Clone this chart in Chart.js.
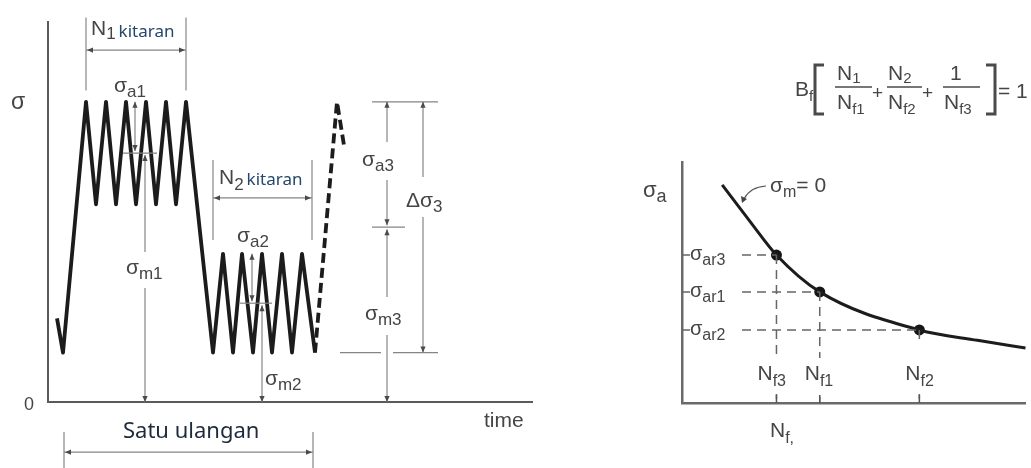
<!DOCTYPE html>
<html>
<head>
<meta charset="utf-8">
<script src="https://cdn.jsdelivr.net/npm/chart.js@4.4.1/dist/chart.umd.min.js"></script>
<style>
  html, body { margin: 0; padding: 0; background: #fff; }
  #wrap { position: relative; width: 1031px; height: 468px; overflow: hidden; }
  #loadChart { position: absolute; left: 0; top: 0; }
  #snChart { position: absolute; left: 600px; top: 0; }
</style>
</head>
<body>
<div id="wrap">
  <canvas id="loadChart" width="560" height="468"></canvas>
  <canvas id="snChart" width="431" height="468"></canvas>
</div>
<script>
// stress history, one repeat of the block loading (time units = one cycle)
const solidTime = [0.45, 0.75, 1.9, 2.4, 2.9, 3.4, 3.9, 4.4, 4.9, 5.4, 5.9, 6.4, 6.9,
                   8.25, 8.75, 9.25, 9.7, 10.25, 10.7, 11.2, 11.7, 12.2, 12.7, 13.35];
const solidStress = [22, 13, 79, 52, 79, 52, 79, 52, 79, 52, 79, 52, 79,
                     13, 39, 13, 39, 13, 39, 13, 39, 13, 39, 13];
const dashTime = [13.35, 14.45, 14.8];
const dashStress = [13, 79, 67.5];

// max / min stress of block 1, 2, 3
const blockMax = [79, 39, 79];
const blockMin = [52, 13, 13];

// S-N curve (sigma_m = 0)
const curveLife = [1.17, 1.95, 2.75, 4.01, 6.91, 8.6, 10];
const curveAmp = [9.05, 7.59, 6.14, 4.61, 3.03, 2.6, 2.28];

// failure points: Nf1, Nf2, Nf3 and sigma_ar1, sigma_ar2, sigma_ar3
const failLife = [4.01, 6.91, 2.75];
const failAmp = [4.61, 3.03, 6.14];

const SANS = "'Liberation Sans', Arial, sans-serif";
const NOTE = '#454545';

function toPoints(xs, ys) {
    return xs.map((x, i) => ({ x: x, y: ys[i] }));
}

function seg(ctx, x1, y1, x2, y2) {
    ctx.beginPath();
    ctx.moveTo(x1, y1);
    ctx.lineTo(x2, y2);
    ctx.stroke();
}

// small filled arrow head, tip at (x, y)
function head(ctx, x, y, dir) {
    const L = 6, W = 2.6;
    ctx.beginPath();
    ctx.moveTo(x, y);
    if (dir === 'up') { ctx.lineTo(x - W, y + L); ctx.lineTo(x + W, y + L); }
    if (dir === 'down') { ctx.lineTo(x - W, y - L); ctx.lineTo(x + W, y - L); }
    if (dir === 'left') { ctx.lineTo(x + L, y - W); ctx.lineTo(x + L, y + W); }
    if (dir === 'right') { ctx.lineTo(x - L, y - W); ctx.lineTo(x - L, y + W); }
    ctx.closePath();
    ctx.fill();
}

// horizontal dimension: extension lines + double arrow
function dimH(ctx, x1, x2, yArrow, yTop, yBot) {
    seg(ctx, x1, yTop, x1, yBot);
    seg(ctx, x2, yTop, x2, yBot);
    seg(ctx, x1, yArrow, x2, yArrow);
    head(ctx, x1 + 1, yArrow, 'left');
    head(ctx, x2 - 1, yArrow, 'right');
}

// text made of parts (main + subscripts)
function rich(ctx, x, y, parts) {
    parts.forEach(p => {
        ctx.font = p.font;
        ctx.fillStyle = p.color || NOTE;
        ctx.fillText(p.t, x, y + (p.dy || 0));
        x += ctx.measureText(p.t).width + (p.gap || 0);
    });
}

function sig(ctx, x, y, main, sub, size) {
    const s = size || 21;
    rich(ctx, x, y, [
        { t: main, font: s + 'px ' + SANS },
        { t: sub, font: Math.round(s * 0.8) + 'px ' + SANS, dy: 5 }
    ]);
}

const loadNotes = {
    id: 'loadNotes',
    afterDatasetsDraw(chart) {
        const ctx = chart.ctx;
        const X = t => chart.scales.x.getPixelForValue(t);
        const Y = s => chart.scales.y.getPixelForValue(s);
        const m1 = (blockMax[0] + blockMin[0]) / 2;
        const m2 = (blockMax[1] + blockMin[1]) / 2;
        const m3 = (blockMax[2] + blockMin[2]) / 2;
        ctx.save();
        ctx.strokeStyle = '#858585';
        ctx.fillStyle = '#4a4a4a';
        ctx.lineWidth = 1.2;

        dimH(ctx, X(1.9), X(6.9), Y(92.6), Y(101.2), Y(82));
        dimH(ctx, X(8.25), X(13.2), Y(53.7), Y(63.7), Y(42.6));
        dimH(ctx, X(0.8), X(13.25), Y(-13.2), Y(-7.9), Y(-17.6));

        // block 1 amplitude and mean
        let xa = X(4.35), xm = X(4.85);
        seg(ctx, xa, Y(blockMax[0]), xa, Y(m1) - 2);
        head(ctx, xa, Y(blockMax[0]), 'up');
        head(ctx, xa, Y(m1) - 2, 'down');
        seg(ctx, X(3.75), Y(m1), X(5.45), Y(m1));
        seg(ctx, xm, Y(m1) + 2, xm, 252);
        seg(ctx, xm, 288, xm, Y(0));
        head(ctx, xm, Y(m1) + 2, 'up');
        head(ctx, xm, Y(0), 'down');

        // block 2 amplitude and mean
        xa = X(10.2); xm = X(10.7);
        seg(ctx, xa, Y(blockMax[1]), xa, Y(m2) - 2);
        head(ctx, xa, Y(blockMax[1]), 'up');
        head(ctx, xa, Y(m2) - 2, 'down');
        seg(ctx, X(9.6), Y(m2), X(11.2), Y(m2));
        seg(ctx, xm, Y(m2) + 2, xm, Y(0));
        head(ctx, xm, Y(m2) + 2, 'up');
        head(ctx, xm, Y(0), 'down');

        // block 3 dimensions
        seg(ctx, X(16.2), Y(blockMax[2]), X(19.5), Y(blockMax[2]));
        seg(ctx, X(14.6), Y(blockMin[2]), X(16.65), Y(blockMin[2]));
        seg(ctx, X(17.25), Y(blockMin[2]), X(19.5), Y(blockMin[2]));
        const x3 = X(16.95);
        seg(ctx, x3, Y(blockMax[2]), x3, 142);
        seg(ctx, x3, 180, x3, Y(m3) - 2);
        head(ctx, x3, Y(blockMax[2]), 'up');
        head(ctx, x3, Y(m3) - 2, 'down');
        seg(ctx, X(16.2), Y(m3), X(17.85), Y(m3));
        seg(ctx, x3, Y(m3) + 2, x3, 297);
        seg(ctx, x3, 335, x3, Y(0));
        head(ctx, x3, Y(m3) + 2, 'up');
        head(ctx, x3, Y(0), 'down');
        const xd = X(18.75);
        seg(ctx, xd, Y(blockMax[2]), xd, 177);
        seg(ctx, xd, 217, xd, Y(blockMin[2]));
        head(ctx, xd, Y(blockMax[2]), 'up');
        head(ctx, xd, Y(blockMin[2]), 'down');

        // texts
        ctx.textBaseline = 'alphabetic';
        rich(ctx, 11, 109, [{ t: 'σ', font: '23px ' + SANS }]);
        rich(ctx, 24, 410, [{ t: '0', font: '18px ' + SANS }]);
        rich(ctx, 484, 427, [{ t: 'time', font: '21px ' + SANS }]);
        rich(ctx, 123, 438, [{ t: 'Satu ulangan', font: "22px 'Noto Sans'", color: '#1d2a3c' }]);
        rich(ctx, 91, 35, [
            { t: 'N', font: '21px ' + SANS },
            { t: '1', font: '17px ' + SANS, dy: 4, gap: 3 },
            { t: 'kitaran', font: "17px 'Noto Sans'", color: '#24476e', dy: 2 }
        ]);
        rich(ctx, 219, 184, [
            { t: 'N', font: '21px ' + SANS },
            { t: '2', font: '17px ' + SANS, dy: 6, gap: 3 },
            { t: 'kitaran', font: "17px 'Noto Sans'", color: '#24476e', dy: 1 }
        ]);
        sig(ctx, 114, 92, 'σ', 'a1');
        sig(ctx, 126, 274, 'σ', 'm1');
        sig(ctx, 237, 242, 'σ', 'a2');
        sig(ctx, 265, 385, 'σ', 'm2');
        sig(ctx, 362, 166, 'σ', 'a3');
        sig(ctx, 406, 207, 'Δσ', '3');
        sig(ctx, 365, 320, 'σ', 'm3');
        ctx.restore();
    }
};

const snNotes = {
    id: 'snNotes',
    afterDatasetsDraw(chart) {
        const ctx = chart.ctx;
        const X = n => chart.scales.x.getPixelForValue(n);
        const Y = s => chart.scales.y.getPixelForValue(s);
        ctx.save();

        // clear room for the labels on the dashed guides
        ctx.fillStyle = '#fff';
        failAmp.forEach(a => ctx.fillRect(X(0) + 8, Y(a) - 4, 50, 8));
        failLife.forEach((n, i) => {
            const top = i === 1 ? Y(failAmp[i]) + 14 : 358;
            ctx.fillRect(X(n) - 4, top, 8, 394 - top);
        });

        // ticks on the life axis
        ctx.strokeStyle = '#555';
        ctx.lineWidth = 1.5;
        failLife.forEach(n => seg(ctx, X(n), Y(0) - 8, X(n), Y(0)));

        // labels
        sig(ctx, 90, Y(failAmp[2]) + 5, 'σ', 'ar3', 20);
        sig(ctx, 90, Y(failAmp[0]) + 5, 'σ', 'ar1', 20);
        sig(ctx, 90, Y(failAmp[1]) + 5, 'σ', 'ar2', 20);
        const nf = '21px ' + SANS, nfs = '16px ' + SANS;
        rich(ctx, X(failLife[2]) - 19, 380, [{ t: 'N', font: nf }, { t: 'f3', font: nfs, dy: 6 }]);
        rich(ctx, X(failLife[0]) - 15, 380, [{ t: 'N', font: nf }, { t: 'f1', font: nfs, dy: 6 }]);
        rich(ctx, X(failLife[1]) - 14, 380, [{ t: 'N', font: nf }, { t: 'f2', font: nfs, dy: 6 }]);
        rich(ctx, 170, 437, [{ t: 'N', font: nf }, { t: 'f,', font: nfs, dy: 6 }]);
        sig(ctx, 43, 197, 'σ', 'a', 22);
        rich(ctx, 170, 192, [
            { t: 'σ', font: '21px ' + SANS },
            { t: 'm', font: '16px ' + SANS, dy: 5 },
            { t: '= 0', font: '21px ' + SANS }
        ]);

        // leader to the curve
        ctx.strokeStyle = '#555';
        ctx.fillStyle = '#444';
        ctx.lineWidth = 1.2;
        ctx.beginPath();
        ctx.moveTo(166, 186);
        ctx.quadraticCurveTo(150, 187, 144, 199);
        ctx.stroke();
        ctx.beginPath();
        ctx.moveTo(142, 203);
        ctx.lineTo(141, 196);
        ctx.lineTo(147, 199);
        ctx.closePath();
        ctx.fill();

        // Miner's rule with the block count
        const big = '21px ' + SANS, sm = '15px ' + SANS;
        rich(ctx, 195, 96, [{ t: 'B', font: big }, { t: 'f', font: sm, dy: 5 }]);
        rich(ctx, 237, 80, [{ t: 'N', font: big }, { t: '1', font: sm, dy: 3 }]);
        rich(ctx, 237, 109, [{ t: 'N', font: big }, { t: 'f1', font: sm, dy: 5 }]);
        rich(ctx, 272, 99, [{ t: '+', font: '19px ' + SANS }]);
        rich(ctx, 288, 80, [{ t: 'N', font: big }, { t: '2', font: sm, dy: 3 }]);
        rich(ctx, 288, 109, [{ t: 'N', font: big }, { t: 'f2', font: sm, dy: 5 }]);
        rich(ctx, 322, 99, [{ t: '+', font: '19px ' + SANS }]);
        rich(ctx, 350, 80, [{ t: '1', font: big }]);
        rich(ctx, 344, 109, [{ t: 'N', font: big }, { t: 'f3', font: sm, dy: 5 }]);
        rich(ctx, 398, 98, [{ t: '= 1', font: big }]);
        ctx.strokeStyle = '#4a4a4a';
        ctx.lineWidth = 1.4;
        seg(ctx, 235, 87, 272, 87);
        seg(ctx, 287, 87, 322, 87);
        seg(ctx, 343, 87, 380, 87);
        ctx.lineWidth = 3;
        ctx.beginPath();
        ctx.moveTo(224, 65); ctx.lineTo(215, 65); ctx.lineTo(215, 114); ctx.lineTo(224, 114);
        ctx.stroke();
        ctx.beginPath();
        ctx.moveTo(386, 65); ctx.lineTo(395, 65); ctx.lineTo(395, 114); ctx.lineTo(386, 114);
        ctx.stroke();
        ctx.restore();
    }
};

function plainAxis(min, max, color, width) {
    return {
        type: 'linear', min: min, max: max,
        grid: { display: false, drawTicks: false },
        ticks: { display: false },
        border: { display: true, color: color, width: width }
    };
}

function initLoadChart() {
    new Chart(document.getElementById('loadChart'), {
        type: 'line',
        data: {
            datasets: [
                { data: toPoints(solidTime, solidStress), borderColor: '#1c1c1c', borderWidth: 3.8,
                  borderJoinStyle: 'round', pointRadius: 0, tension: 0, clip: false },
                { data: toPoints(dashTime, dashStress), borderColor: '#1c1c1c', borderWidth: 3.8,
                  borderDash: [10, 5], pointRadius: 0, tension: 0, clip: false }
            ]
        },
        options: {
            responsive: false,
            animation: false,
            layout: { padding: { left: 48, right: 28, top: 22, bottom: 66 } },
            scales: { x: plainAxis(0, 24.2, '#5a5a5a', 2), y: plainAxis(0, 100, '#5a5a5a', 2) },
            plugins: { legend: { display: false }, tooltip: { enabled: false } }
        },
        plugins: [loadNotes]
    });
}

function initSnChart() {
    const guide = { borderColor: '#666', borderWidth: 1.5, borderDash: [9, 6], pointRadius: 0, clip: false };
    const sets = [];
    failLife.forEach((n, i) => {
        sets.push(Object.assign({ data: [{ x: 0, y: failAmp[i] }, { x: n, y: failAmp[i] }] }, guide));
        sets.push(Object.assign({ data: [{ x: n, y: failAmp[i] }, { x: n, y: 0 }] }, guide));
    });
    sets.push({ data: toPoints(curveLife, curveAmp), borderColor: '#1c1c1c', borderWidth: 3,
                cubicInterpolationMode: 'monotone', pointRadius: 0, clip: false });
    sets.push({ data: toPoints(failLife, failAmp), showLine: false, pointRadius: 5.5,
                pointBackgroundColor: '#151515', pointBorderWidth: 0, clip: false });

    new Chart(document.getElementById('snChart'), {
        type: 'line',
        data: { datasets: sets },
        options: {
            responsive: false,
            animation: false,
            layout: { padding: { left: 82, right: 0, top: 162, bottom: 65 } },
            scales: { x: plainAxis(0, 10, '#6a6a6a', 2.5), y: plainAxis(0, 10, '#6a6a6a', 2.5) },
            plugins: { legend: { display: false }, tooltip: { enabled: false } }
        },
        plugins: [snNotes]
    });
}

initLoadChart();
initSnChart();
</script>
</body>
</html>
